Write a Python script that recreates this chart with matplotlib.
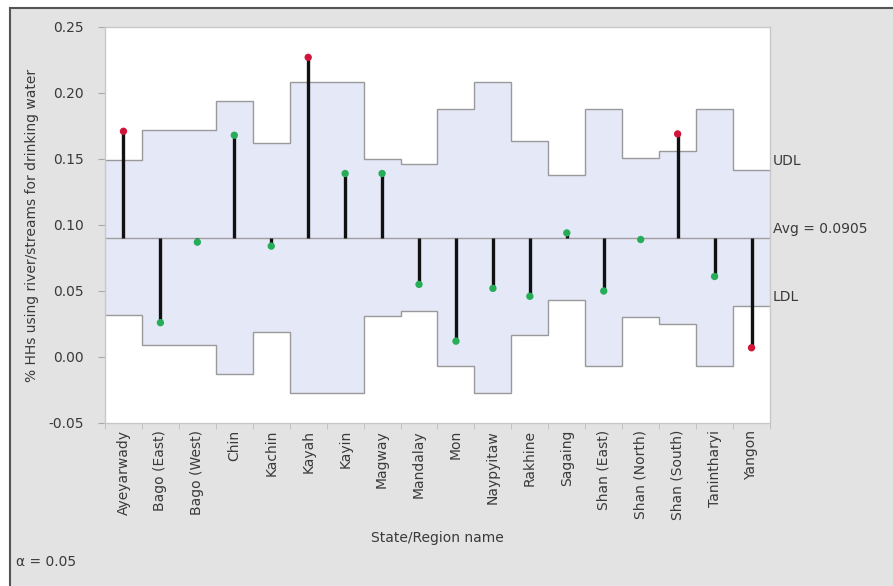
import numpy as np
import matplotlib
matplotlib.use("Agg")
import matplotlib.pyplot as plt
from matplotlib.patches import Rectangle
from matplotlib.lines import Line2D

plt.rcParams['font.family'] = ['DejaVu Sans']

regions = ["Ayeyarwady", "Bago (East)", "Bago (West)", "Chin", "Kachin", "Kayah",
           "Kayin", "Magway", "Mandalay", "Mon", "Naypyitaw", "Rakhine", "Sagaing",
           "Shan (East)", "Shan (North)", "Shan (South)", "Tanintharyi", "Yangon"]
proportion = [0.171, 0.026, 0.087, 0.168, 0.084, 0.227, 0.139, 0.139, 0.055,
              0.012, 0.052, 0.046, 0.094, 0.050, 0.089, 0.169, 0.061, 0.007]
udl = [0.149, 0.172, 0.172, 0.194, 0.162, 0.208, 0.208, 0.150, 0.146, 0.188,
       0.208, 0.164, 0.138, 0.188, 0.151, 0.156, 0.188, 0.142]
ldl = [0.032, 0.009, 0.009, -0.013, 0.019, -0.027, -0.027, 0.031, 0.035, -0.007,
       -0.027, 0.017, 0.043, -0.007, 0.030, 0.025, -0.007, 0.039]
average = 0.0905
alpha_level = 0.05
y_ticks = [-0.05, 0.00, 0.05, 0.10, 0.15, 0.20, 0.25]

W, H = 893, 586
fig = plt.figure(figsize=(W / 100, H / 100), dpi=100, facecolor="white")

# grey report panel with a dark frame on top and left
fig.patches.append(Rectangle((10 / W, 0), 1 - 10 / W, 1 - 8 / H, transform=fig.transFigure,
                             facecolor="#e3e3e3", edgecolor="none", zorder=-10))
fig.lines.append(Line2D([10 / W, 1], [1 - 8 / H, 1 - 8 / H], transform=fig.transFigure,
                        color="#555555", lw=1.5))
fig.lines.append(Line2D([10 / W, 10 / W], [0, 1 - 8 / H], transform=fig.transFigure,
                        color="#555555", lw=1.5))

ax = fig.add_axes([105 / W, 1 - 423 / H, 665 / W, (423 - 27) / H])
ax.set_facecolor("white")

n = len(regions)
x = np.arange(n)
edges = np.arange(n + 1) - 0.5
udl_a = np.array(udl)
ldl_a = np.array(ldl)
vals = np.array(proportion)

# decision band
ax.stairs(udl_a, edges, baseline=ldl_a, fill=True, color="#e4e8f7", zorder=1)
ax.stairs(udl_a, edges, baseline=None, color="#9a9a9a", lw=1.0, zorder=2)
ax.stairs(ldl_a, edges, baseline=None, color="#9a9a9a", lw=1.0, zorder=2)
ax.axhline(average, color="#a0a0a0", lw=1.0, zorder=2)

# needles from the average to each proportion
outside = (vals > udl_a) | (vals < ldl_a)
ax.vlines(x, average, vals, color="#111111", lw=2.4, zorder=3)
ax.scatter(x[outside], vals[outside], s=28, color="#d0143a", zorder=4, edgecolors="none")
ax.scatter(x[~outside], vals[~outside], s=28, color="#27ad57", zorder=4, edgecolors="none")

ax.set_xlim(-0.5, n - 0.5)
ax.set_ylim(-0.05, 0.25)
ax.set_yticks(y_ticks)
ax.set_yticklabels([f"{t:.2f}" for t in y_ticks])
ax.set_xticks(x)
ax.set_xticklabels(regions, rotation=90)
ax.set_xticks(edges, minor=True)
ax.tick_params(axis="x", which="major", length=0, pad=5, labelsize=10, labelcolor="#3a3a3a")
ax.tick_params(axis="x", which="minor", length=4, color="#bbbbbb")
ax.tick_params(axis="y", which="major", length=5, pad=10, labelsize=10, labelcolor="#3a3a3a",
               color="#aaaaaa")
for s in ax.spines.values():
    s.set_color("#c8c8c8")
    s.set_linewidth(1.0)

ax.set_xlabel("State/Region name", fontsize=10, color="#3a3a3a", labelpad=8)
ax.set_ylabel("% HHs using river/streams for drinking water", fontsize=10, color="#3a3a3a",
              labelpad=7)

# limit labels on the right
for yv, lab in [(udl_a[-1], "UDL"), (average, f"Avg = {average}"), (ldl_a[-1], "LDL")]:
    ax.annotate(lab, xy=(1, yv), xycoords=("axes fraction", "data"), xytext=(2, 6),
                textcoords="offset points", ha="left", va="center", fontsize=10,
                color="#3a3a3a", annotation_clip=False)

fig.text(16 / W, 1 - 562 / H, f"α = {alpha_level}", fontsize=10, color="#3a3a3a",
         ha="left", va="center")

fig.savefig("out.png", dpi=100, facecolor=fig.get_facecolor())
